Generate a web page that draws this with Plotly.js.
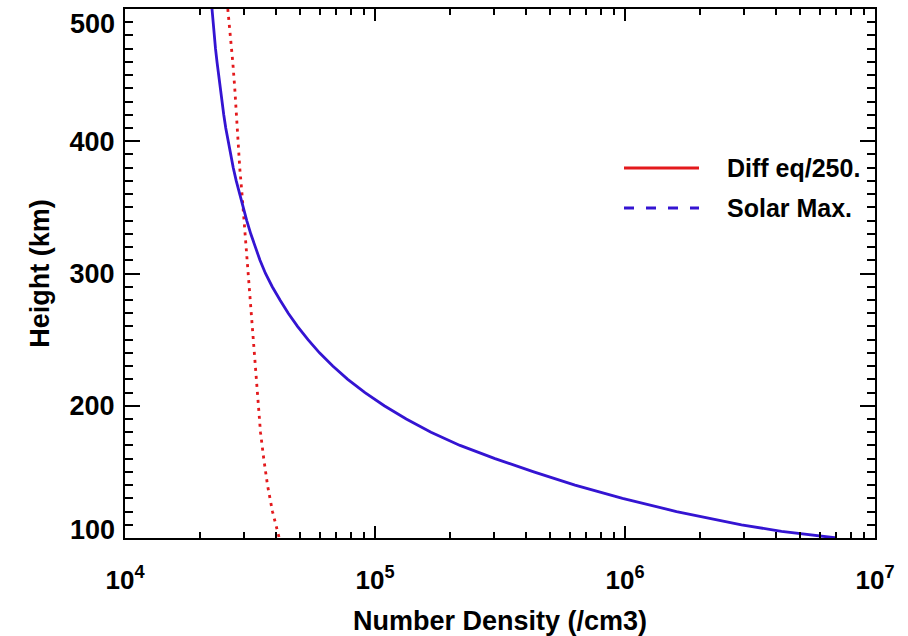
<!DOCTYPE html>
<html>
<head>
<meta charset="utf-8">
<script src="https://cdn.plot.ly/plotly-3.0.1.min.js"></script>
<style>html,body{margin:0;padding:0;background:#fff;}#chart{width:908px;height:636px;}</style>
</head>
<body>
<div id="chart"></div>
<script>
// Diff eq/250. (red dotted)
const diffHeight = [500,480,460,440,420,400,380,360,340,320,300,280,260,240,220,200,180,160,140,120,100];
const diffDensity = [25770,26420,26980,27480,27860,28310,28770,29380,29920,30480,31050,31620,32210,32810,33420,34040,34830,35890,37150,38900,41400];
// Solar Max. (blue solid)
const solarHeight = [500,490,480,470,460,450,440,430,420,410,400,390,380,370,360,350,340,330,320,310,300,290,280,270,260,250,240,230,220,210,200,190,180,170,160,150,140,130,120,110,105,100];
const solarDensity = [22284,22491,22751,23014,23335,23659,24044,24434,24831,25293,25823,26424,27102,27861,28708,29648,30690,31842,33113,34674,36475,38815,41687,44978,48978,53951,59979,67764,77804,91201,108893,133352,167494,218776,301995,431519,630957,977237,1606941,2924152,4226686,7030723];
const xTickVals = [1e4,1e5,1e6,1e7];
const xTickText = ['10<sup>4</sup>','10<sup>5</sup>','10<sup>6</sup>','10<sup>7</sup>'];
const yTickVals = [200,300,400];
const yTickText = ['200','300','400'];
const yEndLabels = ['500','100'];
const legendNames = ['Diff eq/250.','Solar Max.'];

const RED = '#e3191c', BLUE = '#3414d2';
const FAM = 'Liberation Sans, Arial, sans-serif';
const f = (s) => ({family:FAM, size:s, color:'#000', weight:'bold'});

// plot area in pixels
const L=125, R=875, T=9, B=538;
const px = x => (x-L)/(R-L);
const py = y => (B-y)/(B-T);

const traces = [
  {x: diffDensity, y: diffHeight, mode:'lines', line:{color:RED, width:2.8, dash:'3px,5px'}, showlegend:false, name:legendNames[0]},
  {x: solarDensity, y: solarHeight, mode:'lines', line:{color:BLUE, width:2.8}, showlegend:false, name:legendNames[1]}
];

const layout = {
  width:908, height:636,
  margin:{l:L, r:908-R, t:T, b:636-B},
  paper_bgcolor:'#fff', plot_bgcolor:'#fff',
  font: {family:FAM, size:25, color:'#000'},
  showlegend:false,
  xaxis:{
    type:'log', range:[3.99999,7.00001], tickvals:xTickVals, ticktext:xTickText,
    showgrid:false, zeroline:false,
    showline:true, linecolor:'#000', linewidth:2, mirror:'ticks',
    ticks:'inside', ticklen:12, tickwidth:2, tickcolor:'#000',
    minor:{ticks:'inside', ticklen:6, tickwidth:2, tickcolor:'#000', dtick:'D1', showgrid:false},
    tickfont:f(26),
    ticklabelstandoff:18,
    title:{text:'Number Density (/cm3)', font:f(27), standoff:22}
  },
  yaxis:{
    range:[100,500], tickvals:yTickVals, ticktext:yTickText,
    showgrid:false, zeroline:false,
    showline:true, linecolor:'#000', linewidth:2, mirror:'ticks',
    ticks:'inside', ticklen:15, tickwidth:2, tickcolor:'#000',
    minor:{ticks:'inside', ticklen:8, tickwidth:2, tickcolor:'#000', dtick:10, showgrid:false},
    tickfont:f(27),
    ticklabelstandoff:3,
    title:{text:'Height (km)', font:f(27), standoff:12}
  },
  shapes:[
    {type:'line', xref:'paper', yref:'paper', x0:px(624), x1:px(699), y0:py(168), y1:py(168), line:{color:RED, width:2.8}},
    {type:'line', xref:'paper', yref:'paper', x0:px(624), x1:px(699), y0:py(208), y1:py(208), line:{color:BLUE, width:2.8, dash:'10px,12px'}}
  ],
  annotations:[
    {xref:'paper', yref:'paper', x:px(725), y:py(168), xanchor:'left', yanchor:'middle', showarrow:false, text:legendNames[0], font:f(25)},
    {xref:'paper', yref:'paper', x:px(725), y:py(208), xanchor:'left', yanchor:'middle', showarrow:false, text:legendNames[1], font:f(25)},
    {xref:'paper', yref:'paper', x:px(117), y:py(24), xanchor:'right', yanchor:'middle', showarrow:false, text:yEndLabels[0], font:f(27)},
    {xref:'paper', yref:'paper', x:px(117), y:py(530), xanchor:'right', yanchor:'middle', showarrow:false, text:yEndLabels[1], font:f(27)}
  ]
};

Plotly.newPlot('chart', traces, layout, {staticPlot:true, displayModeBar:false});
</script>
</body>
</html>
